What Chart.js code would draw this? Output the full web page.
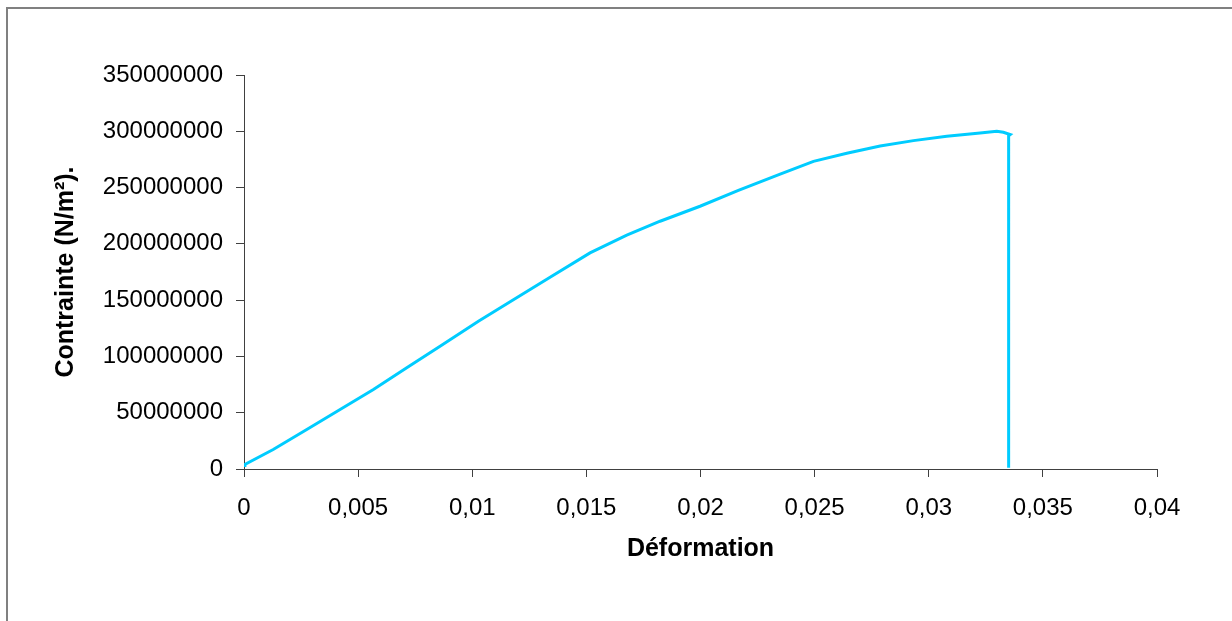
<!DOCTYPE html>
<html>
<head>
<meta charset="utf-8">
<script src="https://cdn.jsdelivr.net/npm/chart.js@4"></script>
<style>
  html, body { margin: 0; padding: 0; background: #fff; overflow: hidden; }
  #frame { position: absolute; left: 6px; top: 7px; width: 1240px; height: 640px; border: 2px solid #808080; }
  #chart { position: absolute; left: 0; top: 0; }
</style>
</head>
<body>
<div id="frame"></div>
<canvas id="chart" width="1232" height="621"></canvas>
<script>
// tensile test: strain vs stress
const strain = [0, 0.00004, 0.00128, 0.00275, 0.00421, 0.00567, 0.00713, 0.00859, 0.01027,
  0.01166, 0.01341, 0.01516, 0.01677, 0.01823, 0.01998, 0.02166, 0.02349, 0.02495, 0.02641,
  0.02787, 0.02933, 0.03079, 0.03225, 0.03298, 0.03327, 0.03357, 0.0335, 0.0335];
const stress = [3000000, 4000000, 17300000, 35100000, 52800000, 70600000, 89900000, 109100000,
  131300000, 148500000, 170300000, 192000000, 207800000, 220100000, 233400000, 247500000,
  262000000, 273300000, 280500000, 287000000, 291700000, 295500000, 298500000, 300000000,
  299100000, 297100000, 296000000, 1000000];

const xTickValues = [0, 0.005, 0.01, 0.015, 0.02, 0.025, 0.03, 0.035, 0.04];
const xTickLabels = ['0', '0,005', '0,01', '0,015', '0,02', '0,025', '0,03', '0,035', '0,04'];
const yTickValues = [0, 50000000, 100000000, 150000000, 200000000, 250000000, 300000000, 350000000];
const yTickLabels = ['0', '50000000', '100000000', '150000000', '200000000', '250000000', '300000000', '350000000'];

const font = 'Liberation Sans, Arial, sans-serif';
const axisColor = '#404040';

const points = strain.map((x, i) => ({ x: x, y: stress[i] }));

new Chart(document.getElementById('chart').getContext('2d'), {
  type: 'scatter',
  data: {
    datasets: [{
      data: points,
      showLine: true,
      borderColor: '#00CCFF',
      borderWidth: 3,
      pointRadius: 0,
      tension: 0
    }]
  },
  options: {
    responsive: false,
    animation: false,
    layout: { padding: { left: 20, top: 75, right: 75, bottom: 20 } },
    plugins: { legend: { display: false }, tooltip: { enabled: false } },
    scales: {
      x: {
        type: 'linear',
        min: 0,
        max: 0.04,
        afterBuildTicks: s => { s.ticks = xTickValues.map(v => ({ value: v })); },
        afterFit: s => { s.height = 132; },
        ticks: {
          callback: (v, i) => xTickLabels[i],
          font: { family: font, size: 24 },
          color: '#000',
          padding: 17,
          maxRotation: 0,
          autoSkip: false
        },
        grid: { drawOnChartArea: false, tickLength: 8, color: axisColor },
        border: { color: axisColor, width: 1 },
        title: {
          display: true,
          text: 'Déformation',
          font: { family: font, size: 25, weight: 'bold' },
          color: '#000',
          padding: { top: 0, bottom: 37 }
        }
      },
      y: {
        type: 'linear',
        min: 0,
        max: 350000000,
        afterBuildTicks: s => { s.ticks = yTickValues.map(v => ({ value: v })); },
        afterFit: s => { s.width = 224; },
        ticks: {
          callback: (v, i) => yTickLabels[i],
          font: { family: font, size: 24 },
          color: '#000',
          padding: 13,
          autoSkip: false
        },
        grid: { drawOnChartArea: false, tickLength: 8, color: axisColor },
        border: { color: axisColor, width: 1 },
        title: {
          display: true,
          text: 'Contrainte (N/m²).',
          font: { family: font, size: 25, weight: 'bold' },
          color: '#000',
          padding: { top: 31, bottom: 0 }
        }
      }
    }
  }
});
</script>
</body>
</html>
